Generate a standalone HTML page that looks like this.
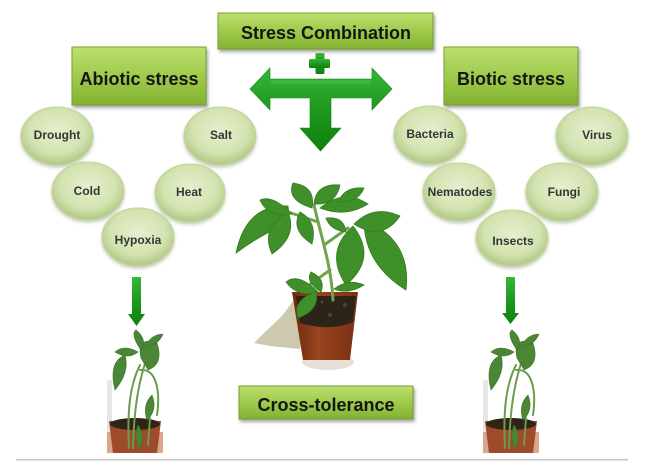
<!DOCTYPE html>
<html>
<head>
<meta charset="utf-8">
<style>
  html,body{margin:0;padding:0;background:#ffffff;}
  body{width:652px;height:468px;overflow:hidden;}
  svg{display:block;}
  .bx{font-family:"Liberation Sans",Arial,sans-serif;font-weight:bold;font-size:18px;fill:#151515;text-anchor:middle;}
  .el{font-family:"Liberation Sans",Arial,sans-serif;font-weight:bold;font-size:12px;fill:#353535;text-anchor:middle;}
</style>
</head>
<body>
<svg width="652" height="468" viewBox="0 0 652 468" xmlns="http://www.w3.org/2000/svg">
  <defs>
    <linearGradient id="boxg" x1="0" y1="0" x2="0" y2="1">
      <stop offset="0" stop-color="#bddf70"/>
      <stop offset="0.5" stop-color="#9fca4c"/>
      <stop offset="1" stop-color="#82b232"/>
    </linearGradient>
    <radialGradient id="elg" cx="50%" cy="42%" r="55%">
      <stop offset="0" stop-color="#e6efcf"/>
      <stop offset="0.7" stop-color="#d3e3b0"/>
      <stop offset="1" stop-color="#b5cb8b"/>
    </radialGradient>
    <linearGradient id="arg" x1="0" y1="0" x2="0" y2="1">
      <stop offset="0" stop-color="#38b638"/>
      <stop offset="0.5" stop-color="#1d991d"/>
      <stop offset="1" stop-color="#0f800f"/>
    </linearGradient>
    <linearGradient id="potg" x1="0" y1="0" x2="1" y2="0">
      <stop offset="0" stop-color="#6e2a10"/>
      <stop offset="0.4" stop-color="#9a4420"/>
      <stop offset="1" stop-color="#7a3014"/>
    </linearGradient>
    <filter id="sh" x="-20%" y="-20%" width="140%" height="150%">
      <feDropShadow dx="1.5" dy="2.5" stdDeviation="1.5" flood-color="#000" flood-opacity="0.35"/>
    </filter>
    <filter id="esh" x="-20%" y="-20%" width="140%" height="150%">
      <feDropShadow dx="0" dy="2" stdDeviation="1.5" flood-color="#556633" flood-opacity="0.35"/>
    </filter>
  </defs>

  <!-- Boxes -->
  <g filter="url(#sh)">
    <rect x="218" y="13" width="215" height="36" fill="url(#boxg)" stroke="#76a22e" stroke-width="1"/>
    <rect x="72" y="47" width="134" height="58" fill="url(#boxg)" stroke="#76a22e" stroke-width="1"/>
    <rect x="444" y="47" width="134" height="58" fill="url(#boxg)" stroke="#76a22e" stroke-width="1"/>
    <rect x="239" y="386" width="174" height="33" fill="url(#boxg)" stroke="#76a22e" stroke-width="1"/>
  </g>
  <text class="bx" x="326" y="39">Stress Combination</text>
  <text class="bx" x="139" y="85">Abiotic stress</text>
  <text class="bx" x="511" y="85">Biotic stress</text>
  <text class="bx" x="326" y="411">Cross-tolerance</text>

  <!-- Plus sign -->
  <g fill="url(#arg)">
    <rect x="315.5" y="53" width="9" height="21" rx="1.5"/>
    <rect x="309" y="59" width="21" height="9" rx="1.5"/>
  </g>

  <!-- Main arrow -->
  <polygon fill="url(#arg)" stroke="#128512" stroke-width="0.6"
    points="250,89 270,68 270,79 372,79 372,68 392,89 372,110 372,98 331,98 331,128 341,128 320.5,151 300,128 310,128 310,98 270,98 270,110"/>
  <rect x="271" y="80" width="100" height="4" fill="#4cc24c" opacity="0.5"/>

  <!-- Ellipses left -->
  <g filter="url(#esh)" fill="url(#elg)" stroke="#c3d59d" stroke-width="1">
    <ellipse cx="57" cy="136" rx="36" ry="29"/>
    <ellipse cx="220" cy="136" rx="36" ry="29"/>
    <ellipse cx="88" cy="191" rx="36" ry="29"/>
    <ellipse cx="190" cy="193" rx="35" ry="29"/>
    <ellipse cx="138" cy="237" rx="36" ry="29"/>
  </g>
  <text class="el" x="57" y="139">Drought</text>
  <text class="el" x="221" y="139">Salt</text>
  <text class="el" x="87" y="195">Cold</text>
  <text class="el" x="189" y="196">Heat</text>
  <text class="el" x="138" y="244">Hypoxia</text>

  <!-- Ellipses right -->
  <g filter="url(#esh)" fill="url(#elg)" stroke="#c3d59d" stroke-width="1">
    <ellipse cx="430" cy="135" rx="36" ry="29"/>
    <ellipse cx="592" cy="136" rx="36" ry="29"/>
    <ellipse cx="459" cy="192" rx="36" ry="29"/>
    <ellipse cx="562" cy="192" rx="36" ry="29"/>
    <ellipse cx="512" cy="238" rx="36" ry="28"/>
  </g>
  <text class="el" x="430" y="138">Bacteria</text>
  <text class="el" x="597" y="139">Virus</text>
  <text class="el" x="460" y="196">Nematodes</text>
  <text class="el" x="564" y="196">Fungi</text>
  <text class="el" x="513" y="245">Insects</text>

  <!-- Small arrows -->
  <polygon fill="url(#arg)" points="132,277 141,277 141,314 145,314 136.5,326 128,314 132,314"/>
  <polygon fill="url(#arg)" points="506,277 515,277 515,313 519,313 510.5,324 502,313 506,313"/>

  <!-- Central plant -->
  <g>
    <polygon points="294,300 282,316 264,333 254,343 270,346 300,349 302,330" fill="#cdc8ae"/>
    <ellipse cx="328" cy="362" rx="26" ry="8" fill="#e4e0d6"/>
    <polygon points="292,292 358,292 350,360 303,360" fill="url(#potg)"/>
    <path d="M296,296 L356,296 L353,322 Q330,332 300,323 Z" fill="#2b2418"/>
    <circle cx="310" cy="308" r="2" fill="#5a4030"/>
    <circle cx="330" cy="315" r="2" fill="#5a4030"/>
    <circle cx="345" cy="305" r="2" fill="#5a4030"/>
    <circle cx="322" cy="302" r="1.5" fill="#5a4030"/>
    <g fill="none" stroke="#6fa54a" stroke-width="3" stroke-linecap="round">
      <path d="M333,300 C331,265 322,240 314,205"/>
      <path d="M324,245 L348,228"/>
      <path d="M318,222 L288,212"/>
      <path d="M330,270 L305,288"/>
    </g>
    <g fill="#3f902a" stroke="#337d1e" stroke-width="0.8">
      <path d="M288,206 Q246,204 236,253 Q262,234 290,222 Z"/>
      <path d="M288,212 Q260,228 272,254 Q298,236 288,212 Z"/>
      <path d="M292,214 Q272,194 260,200 Q268,218 292,214 Z"/>
      <path d="M300,212 Q290,230 312,244 Q318,222 300,212 Z"/>
      <path d="M312,208 Q286,200 293,183 Q316,186 312,208 Z"/>
      <path d="M314,204 Q316,183 340,185 Q336,205 314,204 Z"/>
      <path d="M320,208 Q344,188 368,204 Q345,218 320,208 Z"/>
      <path d="M338,202 Q345,186 364,188 Q358,203 338,202 Z"/>
      <path d="M353,226 Q324,252 346,285 Q378,258 353,226 Z"/>
      <path d="M364,220 Q364,264 406,290 Q412,240 364,220 Z"/>
      <path d="M354,224 Q374,204 400,216 Q382,242 354,224 Z"/>
      <path d="M346,232 Q330,230 326,218 Q344,216 346,232 Z"/>
      <path d="M318,292 Q298,272 286,282 Q298,298 318,292 Z"/>
      <path d="M316,292 Q292,300 298,318 Q320,310 316,292 Z"/>
      <path d="M321,292 Q305,282 311,272 Q326,279 321,292 Z"/>
      <path d="M334,289 Q348,278 364,285 Q348,295 334,289 Z"/>
    </g>
  </g>

  <!-- Small wilted plant (left) -->
  <g id="sp">
    <rect x="107" y="380" width="5" height="73" fill="#e6e6e6"/>
    <rect x="107" y="432" width="56" height="21" fill="#d9a78a"/>
    <polygon points="109,421 161,421 157,453 113,453" fill="#a04a2c"/>
    <ellipse cx="135" cy="424" rx="25" ry="6" fill="#2e2418"/>
    <g fill="none" stroke="#6a9c4c" stroke-width="2" stroke-linecap="round">
      <path d="M129,448 C127,410 130,385 140,365"/>
      <path d="M133,448 C134,410 138,385 146,360"/>
      <path d="M140,370 C158,368 160,395 157,415"/>
      <path d="M148,445 L150,418"/>
    </g>
    <g fill="#4a8636" stroke="#3a7628" stroke-width="0.6">
      <path d="M141,358 Q136,336 157,343 Q164,364 148,370 Z"/>
      <path d="M141,350 Q130,334 136,330 Q148,340 141,350 Z"/>
      <path d="M145,346 Q152,334 163,334 Q158,346 145,346 Z"/>
      <path d="M138,352 Q124,344 115,352 Q128,360 138,352 Z"/>
      <path d="M125,355 Q108,362 115,390 Q130,372 125,355 Z"/>
      <path d="M152,395 Q142,405 147,420 Q158,410 152,395 Z"/>
      <path d="M138,425 Q133,438 140,449 Q145,435 138,425 Z"/>
    </g>
  </g>
  <use href="#sp" transform="translate(376,0)"/>

  <rect x="16" y="459" width="612" height="1.5" fill="#c4c4c4"/>
</svg>
</body>
</html>
